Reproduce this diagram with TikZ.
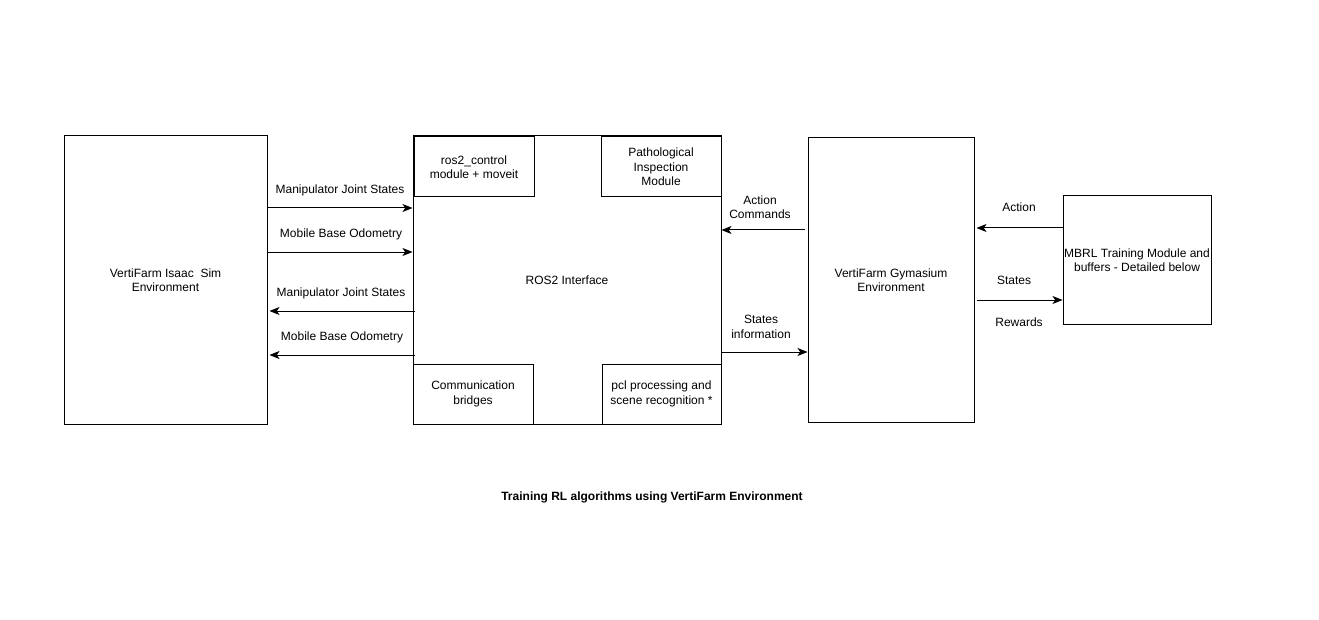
\documentclass[tikz,border=0pt]{standalone}
\usepackage{fontspec}
\setmainfont{Liberation Sans}
\usetikzlibrary{arrows.meta}
\begin{document}
\begin{tikzpicture}[x=0.75pt,y=-0.75pt,
  box/.style={draw=black,line width=0.75pt,inner sep=0pt,align=center,font=\fontsize{9}{10.9}\selectfont},
  lbl/.style={inner sep=0pt,align=center,font=\fontsize{9}{10.9}\selectfont},
  arr/.style={line width=0.75pt,-{Stealth[length=7.5pt,width=6pt,inset=2pt]}}]
\useasboundingbox[fill=white] (0,0) rectangle (1319,620);
% boxes
\node[box,minimum width=203*0.75pt,minimum height=288*0.75pt] (sim) at (165.5,280) {VertiFarm Isaac\ \ Sim\\Environment};
\node[box,minimum width=308*0.75pt,minimum height=288*0.75pt] (ros) at (567,280) {ROS2 Interface};
\node[box,minimum width=120*0.75pt,minimum height=60*0.75pt] (ctrl) at (474,167) {ros2\_control\\module + moveit};
\node[box,minimum width=120*0.75pt,minimum height=60*0.75pt] (path) at (661,167) {Pathological\\Inspection\\Module};
\node[box,minimum width=120*0.75pt,minimum height=60*0.75pt] (comm) at (473,394) {Communication\\bridges};
\node[box,minimum width=119*0.75pt,minimum height=60*0.75pt] (pcl) at (661.5,394) {pcl processing and\\scene recognition *};
\node[box,minimum width=166*0.75pt,minimum height=284*0.75pt] (gym) at (891,280) {VertiFarm Gymasium\\Environment};
\node[box,minimum width=148*0.75pt,minimum height=128*0.75pt] (mbrl) at (1137,260) {MBRL Training Module and\\buffers - Detailed below};
% helper coordinates for arrow rows
\coordinate (r1) at (0,208);
\coordinate (r2) at (0,252);
\coordinate (r3) at (0,311);
\coordinate (r4) at (0,355);
\coordinate (r5) at (0,230);
\coordinate (r6) at (0,352);
\coordinate (r7) at (0,228);
\coordinate (r8) at (0,300);
% arrows
\draw[arr] (sim.east |- r1) -- (ros.west |- r1);
\draw[arr] (sim.east |- r2) -- (ros.west |- r2);
\draw[arr,shorten <=-2pt,shorten >=1.5pt] (ros.west |- r3) -- (sim.east |- r3);
\draw[arr,shorten <=-2pt,shorten >=1.5pt] (ros.west |- r4) -- (sim.east |- r4);
\draw[arr,shorten <=2.2pt] (gym.west |- r5) -- (ros.east |- r5);
\draw[arr] (ros.east |- r6) -- (gym.west |- r6);
\draw[arr,shorten >=1.5pt] (mbrl.west |- r7) -- (gym.east |- r7);
\draw[arr,shorten <=1.5pt] (gym.east |- r8) -- (mbrl.west |- r8);
% labels
\node[lbl] (l1) at (340,190) {Manipulator Joint States};
\node[lbl] (l2) at (341,234) {Mobile Base Odometry};
\node[lbl] (l3) at (341,293) {Manipulator Joint States};
\node[lbl] (l4) at (342,337) {Mobile Base Odometry};
\node[lbl] (l5) at (760,207) {Action\\Commands};
\node[lbl] (l6) at (761,327) {States\\information};
\node[lbl] (l7) at (1019,207) {Action};
\node[lbl] (l8) at (1014,280) {States};
\node[lbl] (l9) at (1019,322) {Rewards};
\node[lbl,font=\fontsize{9}{10.9}\selectfont\bfseries] (title) at (652,497) {Training RL algorithms using VertiFarm Environment};
\end{tikzpicture}
\end{document}
